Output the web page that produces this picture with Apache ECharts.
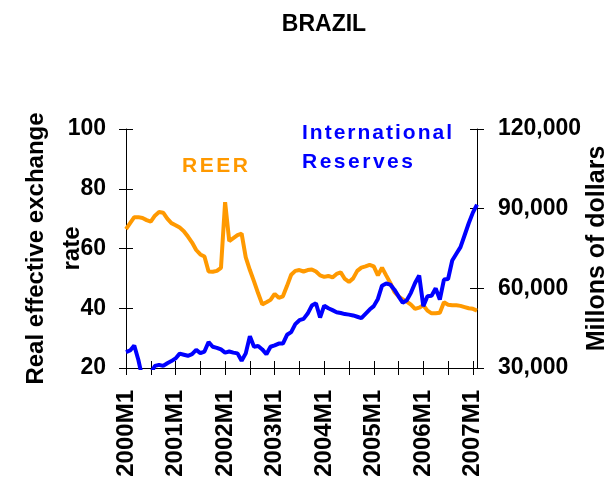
<!DOCTYPE html>
<html>
<head>
<meta charset="utf-8">
<script src="https://cdn.jsdelivr.net/npm/echarts@6/dist/echarts.min.js"></script>
<style>
html,body{margin:0;padding:0;background:#fff;}
#c{width:615px;height:482px;}
</style>
</head>
<body>
<div id="c"></div>
<script>
// ---- data ----
var years = [2000, 2001, 2002, 2003, 2004, 2005, 2006, 2007];
var categories = [];
years.forEach(function (y) {
  for (var m = 1; m <= 12; m++) {
    if (y === 2007 && m > 2) break;
    categories.push(y + 'M' + m);
  }
});
// Real effective exchange rate (left axis)
var reer = [
  66.5, 68.5, 70.5, 70.5, 70.2, 69.5, 69.0, 71.0, 72.2, 72.0, 70.0, 68.5,
  67.8, 67.0, 65.8, 64.0, 62.0, 59.5, 58.0, 57.3, 52.3, 52.2, 52.5, 53.5,
  75.5, 62.5, 63.5, 64.5, 65.0, 57.0, 52.8, 49.0, 45.0, 41.3, 42.0, 42.8,
  44.8, 43.5, 44.0, 47.5, 51.2, 52.5, 52.8, 52.3, 52.8, 53.0, 52.3, 51.0,
  50.5, 50.8, 50.3, 51.5, 52.0, 49.8, 48.8, 50.0, 52.5, 53.6, 54.0, 54.5,
  54.0, 51.0, 53.6, 51.0, 48.5, 45.5, 44.0, 43.0, 42.2, 41.2, 39.8, 40.2,
  41.0, 39.2, 38.3, 38.3, 38.5, 42.0, 41.2, 41.0, 41.0, 40.8, 40.4, 40.0,
  39.8, 39.2
];
// International reserves, millions of dollars (right axis)
var reserves = [
  36000, 36600, 38500, 33000, 26000, 25000, 28000, 30800, 31200, 30800, 31800, 32600,
  33600, 35400, 35000, 34600, 35200, 36800, 35600, 36200, 39800, 38000, 37600, 37000,
  35800, 36200, 35800, 35500, 32700, 35500, 42000, 38000, 38300, 37000, 35200, 38000,
  38500, 39200, 39200, 42500, 43500, 46500, 48000, 48500, 50500, 53500, 54400, 49000,
  53500, 52500, 51800, 51000, 50700, 50300, 50100, 49800, 49300, 48800, 50400, 52000,
  53300, 56000, 61000, 61800, 61400, 59500, 57000, 54600, 55500, 58300, 62000, 64800,
  53300, 57000, 57200, 60000, 55800, 63300, 63500, 70500, 73000, 75500, 80000, 84500,
  88500, 91500
];
var leftTicks = [20, 100, 20];        // min, max, interval
var rightTicks = [30000, 120000, 30000];

var FONT = "'Liberation Sans', Arial, sans-serif";
var chart = echarts.init(document.getElementById('c'), null, {renderer: 'canvas'});

// helper: letter-spaced annotation text built from single characters
var mctx = document.createElement('canvas').getContext('2d');
function spacedText(str, left, top, size, color, spacing) {
  mctx.font = 'bold ' + size + 'px ' + FONT;
  var children = [];
  var x = 0;
  for (var i = 0; i < str.length; i++) {
    var ch = str[i];
    children.push({
      type: 'text', x: x, y: 0,
      style: {text: ch, fill: color, font: 'bold ' + size + 'px ' + FONT, verticalAlign: 'top', align: 'left'}
    });
    x += mctx.measureText(ch).width + spacing;
  }
  return {type: 'group', left: left, top: top, children: children};
}

function fmtThousands(v) {
  return String(v).replace(/\B(?=(\d{3})+(?!\d))/g, ',');
}

var gridRect = {left: 126, right: 138, top: 129, bottom: 114, outerBoundsMode: 'none', containLabel: false};
var axisColor = '#000';
var labelStyle = {color: '#000', fontWeight: 'bold', fontFamily: FONT};

chart.setOption({
  animation: false,
  backgroundColor: '#fff',
  title: {
    text: 'BRAZIL', left: 319, top: 8, textAlign: 'center',
    textStyle: {fontSize: 23, fontWeight: 'bold', color: '#000', fontFamily: FONT}
  },
  grid: [
    Object.assign({}, gridRect),
    Object.assign({}, gridRect)
  ],
  xAxis: [
    {
      type: 'category', gridIndex: 0, data: categories, boundaryGap: false,
      axisLine: {show: true, lineStyle: {color: axisColor, width: 1}},
      axisTick: {show: true, inside: false, length: 7, interval: 5, lineStyle: {color: axisColor}},
      axisLabel: Object.assign({interval: 11, rotate: 90, fontSize: 24, margin: 22}, labelStyle),
      splitLine: {show: false}
    },
    {
      type: 'category', gridIndex: 1, data: categories, boundaryGap: false,
      axisLine: {show: false},
      axisTick: {show: true, inside: true, length: 7, interval: 5, lineStyle: {color: axisColor}},
      axisLabel: {show: false},
      splitLine: {show: false}
    }
  ],
  yAxis: [
    {
      type: 'value', gridIndex: 0, position: 'left',
      min: leftTicks[0], max: leftTicks[1], interval: leftTicks[2],
      name: 'Real effective exchange\nrate', nameLocation: 'middle', nameGap: 36, nameMoveOverlap: false,
      nameTextStyle: {fontSize: 24, fontWeight: 'bold', color: '#000', fontFamily: FONT, lineHeight: 36, align: 'center'},
      axisLine: {show: true, lineStyle: {color: axisColor, width: 1}},
      axisTick: {show: true, inside: false, length: 7, lineStyle: {color: axisColor}},
      axisLabel: Object.assign({fontSize: 23, margin: 20}, labelStyle),
      splitLine: {show: false}
    },
    {
      type: 'value', gridIndex: 0, position: 'right',
      min: rightTicks[0], max: rightTicks[1], interval: rightTicks[2],
      name: 'Millons of dollars', nameLocation: 'middle', nameGap: 108, nameMoveOverlap: false,
      nameTextStyle: {fontSize: 25, fontWeight: 'bold', color: '#000', fontFamily: FONT},
      axisLine: {show: true, lineStyle: {color: axisColor, width: 1}},
      axisTick: {show: true, inside: false, length: 7, lineStyle: {color: axisColor}},
      axisLabel: Object.assign({fontSize: 23, margin: 21, formatter: fmtThousands}, labelStyle),
      splitLine: {show: false}
    },
    {
      type: 'value', gridIndex: 1, position: 'left',
      min: leftTicks[0], max: leftTicks[1], interval: leftTicks[2],
      axisLine: {show: false},
      axisTick: {show: true, inside: true, length: 7, lineStyle: {color: axisColor}},
      axisLabel: {show: false}, splitLine: {show: false}
    },
    {
      type: 'value', gridIndex: 1, position: 'right',
      min: rightTicks[0], max: rightTicks[1], interval: rightTicks[2],
      axisLine: {show: false},
      axisTick: {show: true, inside: true, length: 7, lineStyle: {color: axisColor}},
      axisLabel: {show: false}, splitLine: {show: false}
    }
  ],
  series: [
    {
      name: 'REER', type: 'line', xAxisIndex: 0, yAxisIndex: 0,
      data: reer, showSymbol: false, symbol: 'none',
      lineStyle: {color: '#FF9900', width: 4}, itemStyle: {color: '#FF9900'}
    },
    {
      name: 'International Reserves', type: 'line', xAxisIndex: 0, yAxisIndex: 1,
      data: reserves, showSymbol: false, symbol: 'none', clip: true,
      lineStyle: {color: '#0000FF', width: 4}, itemStyle: {color: '#0000FF'}
    }
  ],
  graphic: [
    spacedText('REER', 182, 156, 21, '#FF9900', 2.5),
    spacedText('International', 302, 123, 21, '#0000FF', 2),
    spacedText('Reserves', 302, 152, 21, '#0000FF', 2.5)
  ]
});
</script>
</body>
</html>
